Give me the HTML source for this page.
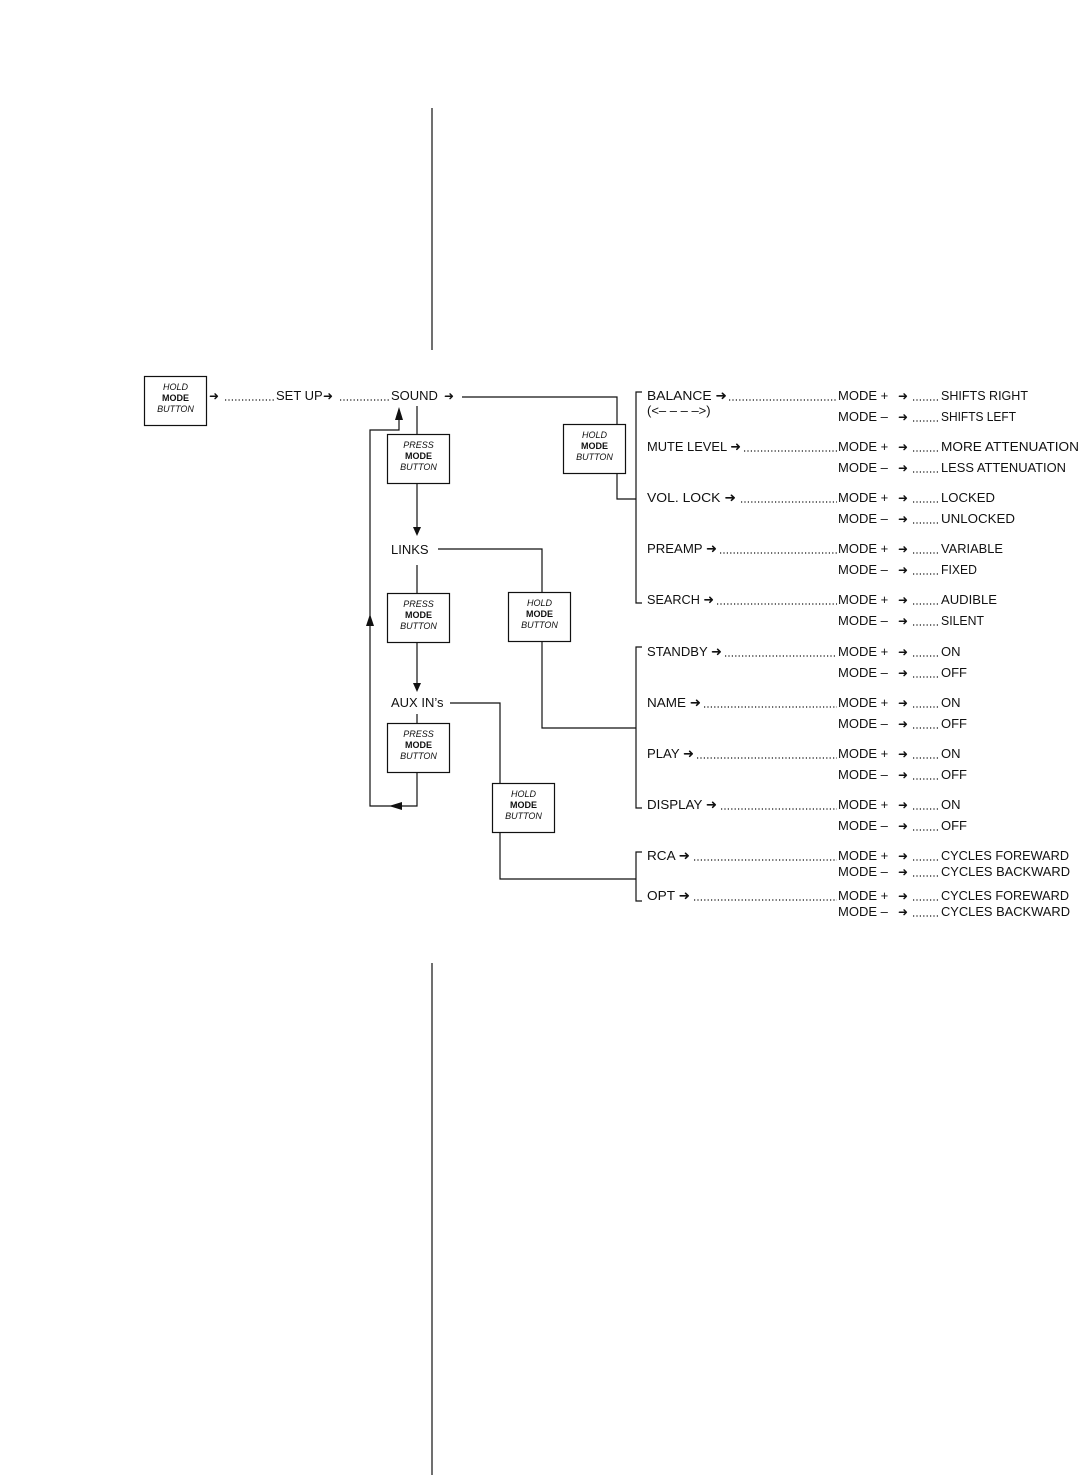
<!DOCTYPE html>
<html><head><meta charset="utf-8"><style>
html,body{margin:0;padding:0;background:#fff;}
svg{display:block;}
text{font-family:"Liberation Sans","DejaVu Sans",sans-serif;font-size:13px;fill:#111;}
.b{font-size:9px;text-anchor:middle;}
.i{font-style:italic;}
.bo{font-weight:bold;}
.ar{font-family:"DejaVu Sans",sans-serif;font-size:12px;}
.ln{stroke:#111;stroke-width:1.2;fill:none;}
.dt{stroke:#111;stroke-width:1.2;stroke-dasharray:1.2 2.2;fill:none;}
</style></head><body>
<svg width="1080" height="1476" viewBox="0 0 1080 1476" xmlns="http://www.w3.org/2000/svg">
<line class="ln" x1="432" y1="108" x2="432" y2="350"/>
<line class="ln" x1="432" y1="963" x2="432" y2="1475"/>

<!-- boxes -->
<g class="ln">
<rect x="144.5" y="376.5" width="62" height="49"/>
<rect x="387.5" y="434.5" width="62" height="49"/>
<rect x="563.5" y="424.5" width="62" height="49"/>
<rect x="387.5" y="593.5" width="62" height="49"/>
<rect x="508.5" y="592.5" width="62" height="49"/>
<rect x="387.5" y="723.5" width="62" height="49"/>
<rect x="492.5" y="783.5" width="62" height="49"/>
</g>
<g>
<text class="b i" x="175.5" y="390">HOLD</text><text class="b bo" x="175.5" y="401">MODE</text><text class="b i" x="175.5" y="412">BUTTON</text>
<text class="b i" x="418.5" y="448">PRESS</text><text class="b bo" x="418.5" y="459">MODE</text><text class="b i" x="418.5" y="470">BUTTON</text>
<text class="b i" x="594.5" y="438">HOLD</text><text class="b bo" x="594.5" y="449">MODE</text><text class="b i" x="594.5" y="460">BUTTON</text>
<text class="b i" x="418.5" y="607">PRESS</text><text class="b bo" x="418.5" y="618">MODE</text><text class="b i" x="418.5" y="629">BUTTON</text>
<text class="b i" x="539.5" y="606">HOLD</text><text class="b bo" x="539.5" y="617">MODE</text><text class="b i" x="539.5" y="628">BUTTON</text>
<text class="b i" x="418.5" y="737">PRESS</text><text class="b bo" x="418.5" y="748">MODE</text><text class="b i" x="418.5" y="759">BUTTON</text>
<text class="b i" x="523.5" y="797">HOLD</text><text class="b bo" x="523.5" y="808">MODE</text><text class="b i" x="523.5" y="819">BUTTON</text>
</g>

<!-- top row -->
<text class="ar" x="209" y="400">➜</text>
<path class="dt" d="M225 400H274"/>
<text x="276" y="400">SET UP</text>
<text class="ar" x="323" y="400">➜</text>
<path class="dt" d="M340 400H390"/>
<text x="391" y="400">SOUND</text>
<text class="ar" x="444" y="400">➜</text>

<!-- connectors -->
<path class="ln" d="M462 397H617V424M617 473V499H636"/>
<path class="ln" d="M642 392H636V603H642"/>
<path class="ln" d="M417 406V434M417 483V530"/>
<path d="M413 527L421 527L417 536Z" fill="#111"/>
<text x="391" y="554">LINKS</text>
<path class="ln" d="M438 549H542V592M542 641V728H636"/>
<path class="ln" d="M642 647H636V808H642"/>
<path class="ln" d="M417 565V593M417 642V686"/>
<path d="M413 683L421 683L417 692Z" fill="#111"/>
<text x="391" y="707">AUX IN’s</text>
<path class="ln" d="M450 703H500V783M500 832V879H636"/>
<path class="ln" d="M642 852H636V901H642"/>
<path class="ln" d="M417 714V723M417 772V806H370V430H399V410"/>
<path d="M395 420L403 420L399 407Z" fill="#111"/>
<path d="M366 626L374 626L370 614Z" fill="#111"/>
<path d="M389 806L402 802L402 810Z" fill="#111"/>

<!-- right side rows -->
<g>
<text x="647" y="400" textLength="80" lengthAdjust="spacingAndGlyphs">BALANCE  ➜</text>
<text x="647" y="415" font-size="12">(&lt;– –    – –&gt;)</text>
<text x="647" y="451" textLength="94" lengthAdjust="spacingAndGlyphs">MUTE LEVEL ➜</text>
<text x="647" y="502" textLength="89" lengthAdjust="spacingAndGlyphs">VOL. LOCK ➜</text>
<text x="647" y="553" textLength="70" lengthAdjust="spacingAndGlyphs">PREAMP ➜</text>
<text x="647" y="604" textLength="67" lengthAdjust="spacingAndGlyphs">SEARCH ➜</text>
<text x="647" y="656" textLength="75" lengthAdjust="spacingAndGlyphs">STANDBY ➜</text>
<text x="647" y="707" textLength="54" lengthAdjust="spacingAndGlyphs">NAME ➜</text>
<text x="647" y="758" textLength="47" lengthAdjust="spacingAndGlyphs">PLAY ➜</text>
<text x="647" y="809" textLength="70" lengthAdjust="spacingAndGlyphs">DISPLAY ➜</text>
<text x="647" y="860" textLength="43" lengthAdjust="spacingAndGlyphs">RCA ➜</text>
<text x="647" y="900" textLength="43" lengthAdjust="spacingAndGlyphs">OPT ➜</text>
</g>
<g class="dt">
<path d="M729 400H837"/><path d="M744 451H837"/><path d="M741 502H837"/>
<path d="M720 553H837"/><path d="M717 604H837"/><path d="M725 656H837"/>
<path d="M704 707H837"/><path d="M697 758H837"/><path d="M721 809H837"/>
<path d="M694 860H837"/><path d="M694 900H837"/>
<path d="M913 400H939M913 421H939M913 451H939M913 472H939M913 502H939M913 523H939M913 553H939M913 574H939M913 604H939M913 625H939M913 656H939M913 677H939M913 707H939M913 728H939M913 758H939M913 779H939M913 809H939M913 830H939M913 860H939M913 876H939M913 900H939M913 916H939"/>
</g>
<g>
<text x="838" y="400">MODE +</text><text x="838" y="421">MODE –</text>
<text x="838" y="451">MODE +</text><text x="838" y="472">MODE –</text>
<text x="838" y="502">MODE +</text><text x="838" y="523">MODE –</text>
<text x="838" y="553">MODE +</text><text x="838" y="574">MODE –</text>
<text x="838" y="604">MODE +</text><text x="838" y="625">MODE –</text>
<text x="838" y="656">MODE +</text><text x="838" y="677">MODE –</text>
<text x="838" y="707">MODE +</text><text x="838" y="728">MODE –</text>
<text x="838" y="758">MODE +</text><text x="838" y="779">MODE –</text>
<text x="838" y="809">MODE +</text><text x="838" y="830">MODE –</text>
<text x="838" y="860">MODE +</text><text x="838" y="876">MODE –</text>
<text x="838" y="900">MODE +</text><text x="838" y="916">MODE –</text>
</g>
<g class="ar">
<text class="ar" x="898" y="400">➜</text><text class="ar" x="898" y="421">➜</text>
<text class="ar" x="898" y="451">➜</text><text class="ar" x="898" y="472">➜</text>
<text class="ar" x="898" y="502">➜</text><text class="ar" x="898" y="523">➜</text>
<text class="ar" x="898" y="553">➜</text><text class="ar" x="898" y="574">➜</text>
<text class="ar" x="898" y="604">➜</text><text class="ar" x="898" y="625">➜</text>
<text class="ar" x="898" y="656">➜</text><text class="ar" x="898" y="677">➜</text>
<text class="ar" x="898" y="707">➜</text><text class="ar" x="898" y="728">➜</text>
<text class="ar" x="898" y="758">➜</text><text class="ar" x="898" y="779">➜</text>
<text class="ar" x="898" y="809">➜</text><text class="ar" x="898" y="830">➜</text>
<text class="ar" x="898" y="860">➜</text><text class="ar" x="898" y="876">➜</text>
<text class="ar" x="898" y="900">➜</text><text class="ar" x="898" y="916">➜</text>
</g>
<g>
<text x="941" y="400" textLength="87" lengthAdjust="spacingAndGlyphs">SHIFTS RIGHT</text>
<text x="941" y="421" textLength="75" lengthAdjust="spacingAndGlyphs">SHIFTS LEFT</text>
<text x="941" y="451" textLength="138" lengthAdjust="spacingAndGlyphs">MORE ATTENUATION</text>
<text x="941" y="472" textLength="125" lengthAdjust="spacingAndGlyphs">LESS ATTENUATION</text>
<text x="941" y="502" textLength="54" lengthAdjust="spacingAndGlyphs">LOCKED</text>
<text x="941" y="523" textLength="74" lengthAdjust="spacingAndGlyphs">UNLOCKED</text>
<text x="941" y="553" textLength="62" lengthAdjust="spacingAndGlyphs">VARIABLE</text>
<text x="941" y="574" textLength="36" lengthAdjust="spacingAndGlyphs">FIXED</text>
<text x="941" y="604" textLength="56" lengthAdjust="spacingAndGlyphs">AUDIBLE</text>
<text x="941" y="625" textLength="43" lengthAdjust="spacingAndGlyphs">SILENT</text>
<text x="941" y="656">ON</text><text x="941" y="677">OFF</text>
<text x="941" y="707">ON</text><text x="941" y="728">OFF</text>
<text x="941" y="758">ON</text><text x="941" y="779">OFF</text>
<text x="941" y="809">ON</text><text x="941" y="830">OFF</text>
<text x="941" y="860" textLength="128" lengthAdjust="spacingAndGlyphs">CYCLES FOREWARD</text>
<text x="941" y="876" textLength="129" lengthAdjust="spacingAndGlyphs">CYCLES BACKWARD</text>
<text x="941" y="900" textLength="128" lengthAdjust="spacingAndGlyphs">CYCLES FOREWARD</text>
<text x="941" y="916" textLength="129" lengthAdjust="spacingAndGlyphs">CYCLES BACKWARD</text>
</g>
</svg>
</body></html>
